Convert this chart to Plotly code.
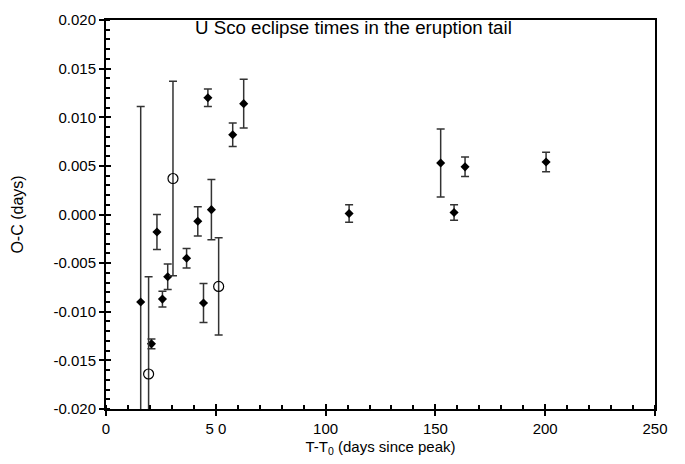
import plotly.graph_objects as go

# Filled diamonds: days since peak, O-C (days), error (days)
filled_t = [15.8, 20.7, 23.2, 25.7, 28.1, 36.7, 41.8, 44.4, 46.4, 48.0, 57.7, 62.7,
            110.7, 152.4, 158.5, 163.5, 200.4]
filled_oc = [-0.0090, -0.0133, -0.0018, -0.0087, -0.0064, -0.0045, -0.0007, -0.0091,
             0.0120, 0.0005, 0.0082, 0.0114, 0.0001, 0.0053, 0.0002, 0.0049, 0.0054]
filled_err = [0.0201, 0.0005, 0.0018, 0.0008, 0.0013, 0.0010, 0.0015, 0.0020,
              0.0009, 0.0031, 0.0012, 0.0025, 0.0009, 0.0035, 0.0008, 0.0010, 0.0010]

# Open circles
open_t = [19.4, 30.5, 51.3]
open_oc = [-0.0164, 0.0037, -0.0074]
open_err = [0.0100, 0.0100, 0.0050]

x_ticks = [0, 50, 100, 150, 200, 250]
x_ticktext = ["0", "5 0", "100", "150", "200", "250"]
y_ticks = [-0.020, -0.015, -0.010, -0.005, 0.000, 0.005, 0.010, 0.015, 0.020]
y_ticktext = ["-0.020", "-0.015", "-0.010", "-0.005", "0.000", "0.005", "0.010", "0.015", "0.020"]

FONT = "Liberation Sans, Arial, Helvetica, sans-serif"

fig = go.Figure()
fig.add_trace(go.Scatter(
    x=filled_t, y=filled_oc, mode="markers",
    marker=dict(symbol="diamond", size=7, color="black"),
    error_y=dict(type="data", array=filled_err, color="#333333", thickness=1.5, width=4),
    cliponaxis=True, showlegend=False))
fig.add_trace(go.Scatter(
    x=open_t, y=open_oc, mode="markers",
    marker=dict(symbol="circle-open", size=10, color="black", line=dict(width=1.2)),
    error_y=dict(type="data", array=open_err, color="#333333", thickness=1.5, width=4),
    cliponaxis=True, showlegend=False))
# invisible trace on overlay axes so inside major ticks are drawn
fig.add_trace(go.Scatter(x=[0], y=[0], xaxis="x2", yaxis="y2", mode="markers",
                         marker=dict(opacity=0), showlegend=False, hoverinfo="skip"))

axis_common = dict(showgrid=False, zeroline=False, showline=True, linecolor="black",
                   linewidth=2, mirror=True, tickcolor="black", tickwidth=1.5,
                   tickfont=dict(family=FONT, size=15, color="black"))

fig.update_layout(
    width=685, height=464,
    margin=dict(l=106, r=30, t=11, b=52),
    paper_bgcolor="white", plot_bgcolor="white",
    font=dict(family=FONT, color="black"),
    xaxis=dict(range=[0, 250], tickvals=x_ticks, ticktext=x_ticktext,
               ticks="outside", ticklen=5,
               minor=dict(dtick=10, tick0=0, ticks="inside", ticklen=4,
                          tickcolor="black", tickwidth=1.5),
               title=dict(text="T-T<sub>0</sub> (days since peak)",
                          font=dict(family=FONT, size=15, color="black"), standoff=5),
               **axis_common),
    yaxis=dict(range=[-0.020, 0.020], tickvals=y_ticks, ticktext=y_ticktext,
               ticks="outside", ticklen=5,
               minor=dict(dtick=0.001, tick0=0, ticks="inside", ticklen=4,
                          tickcolor="black", tickwidth=1.5),
               title=dict(text="O-C (days)", font=dict(family=FONT, size=16, color="black"),
                          standoff=26),
               **axis_common),
    xaxis2=dict(overlaying="x", matches="x", range=[0, 250], tickvals=x_ticks,
                ticks="inside", ticklen=5, tickwidth=1.5, tickcolor="black",
                showticklabels=False, showgrid=False, zeroline=False, showline=False),
    yaxis2=dict(overlaying="y", matches="y", range=[-0.020, 0.020], tickvals=y_ticks,
                ticks="inside", ticklen=5, tickwidth=1.5, tickcolor="black",
                showticklabels=False, showgrid=False, zeroline=False, showline=False),
    annotations=[dict(text="U Sco eclipse times in the eruption tail",
                      xref="paper", yref="paper", x=0.158, y=0.982,
                      xanchor="left", yanchor="middle", showarrow=False,
                      font=dict(family=FONT, size=18.7, color="black"))],
)

fig.write_html("out.html")
